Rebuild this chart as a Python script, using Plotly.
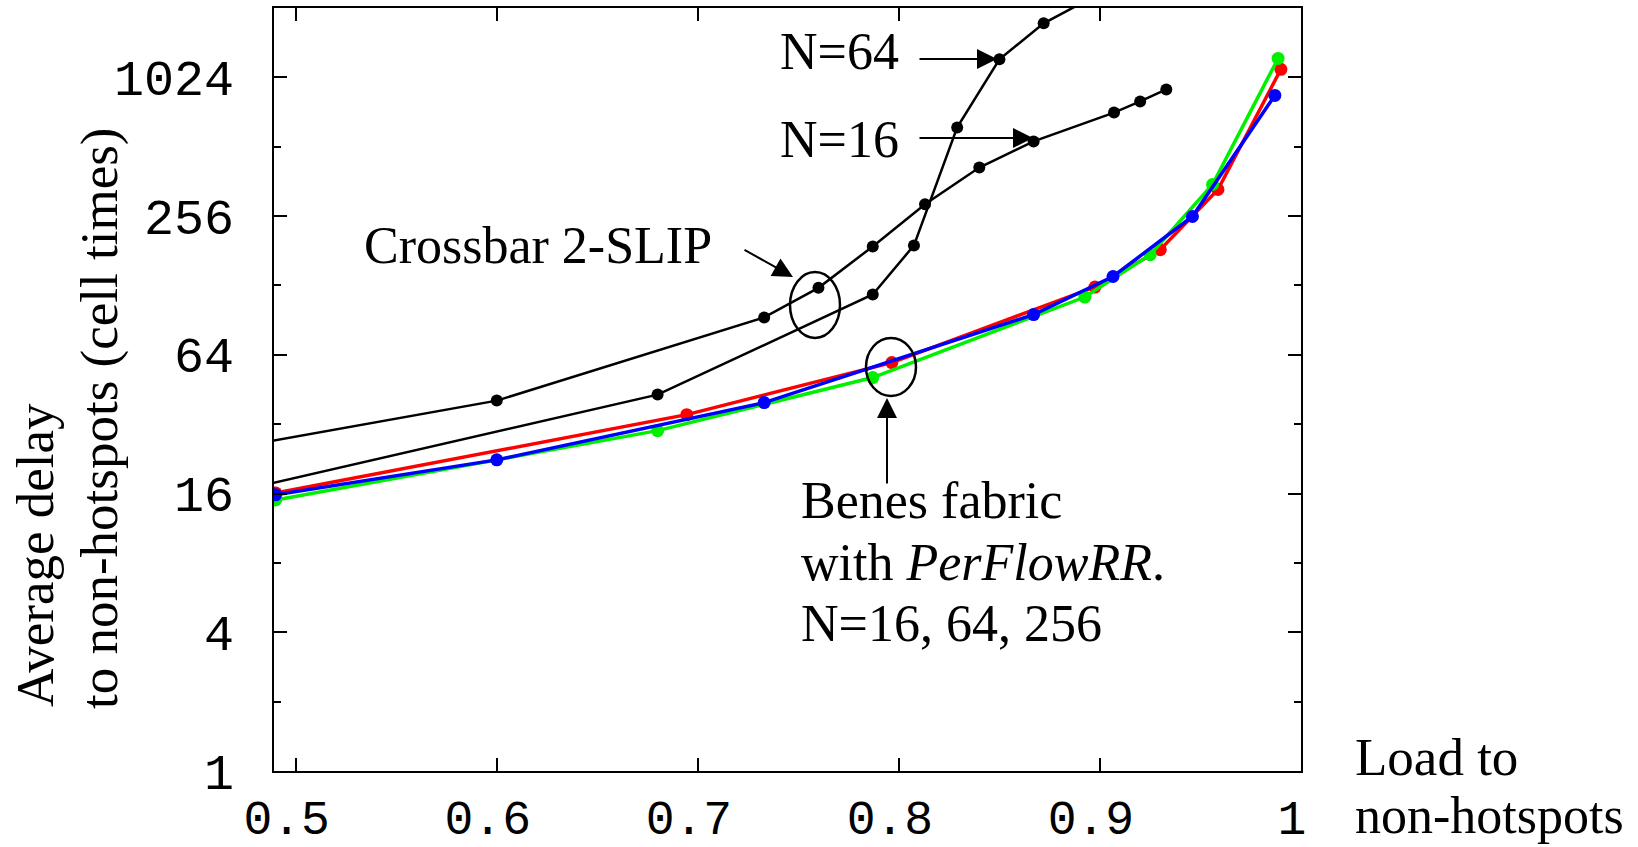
import plotly.graph_objects as go

# ---------------- data ----------------
xb16 = [0.4, 0.6, 0.733, 0.76, 0.787, 0.813, 0.84, 0.867, 0.907, 0.92, 0.933]
yb16 = [19.7, 40.5, 93, 125, 189, 288, 416, 540, 720, 805, 908]

xb64 = [0.4, 0.68, 0.787, 0.8075, 0.829, 0.85, 0.872, 0.893]
yb64 = [11.8, 43.0, 117, 191, 621, 1226, 1757, 2200]

x_red = [0.49, 0.6945, 0.7965, 0.8975, 0.930, 0.9587, 0.990]
y_red = [16.1, 35.2, 59.2, 126, 183, 334, 1110]

x_green = [0.49, 0.68, 0.787, 0.8925, 0.925, 0.956, 0.9886]
y_green = [15.0, 30.0, 51.0, 114, 174, 351, 1237]

x_blue = [0.49, 0.6, 0.733, 0.867, 0.9065, 0.946, 0.987]
y_blue = [15.8, 22.4, 39.7, 95.7, 140, 255, 855]

x_ticks = [0.5, 0.6, 0.7, 0.8, 0.9, 1.0]
x_ticklabels = ["0.5", "0.6", "0.7", "0.8", "0.9", "1"]
y_ticks = [1, 4, 16, 64, 256, 1024]
y_ticklabels = ["1", "4", "16", "64", "256", "1024"]
y_minor = [2, 8, 32, 128, 512]

# ---------------- layout geometry ----------------
W, H = 1638, 847
L, R, T, B = 274, 1301, 8, 771   # plot-area pixel box
PW, PH = R - L, B - T

def px(x):
    return (x - L) / PW

def py(y):
    return (B - y) / PH

SERIF = "Times New Roman, Liberation Serif, serif"
MONO = "Courier New, Liberation Mono, monospace"

fig = go.Figure()

def black(xs, ys):
    fig.add_trace(go.Scatter(x=xs, y=ys, mode="lines+markers",
                             line=dict(color="black", width=2.5),
                             marker=dict(color="black", size=12)))

black(xb16, yb16)
black(xb64, yb64)

for xs, ys, c in [(x_red, y_red, "#ff0000"), (x_green, y_green, "#00f000"),
                  (x_blue, y_blue, "#0000ff")]:
    fig.add_trace(go.Scatter(x=xs, y=ys, mode="lines+markers",
                             line=dict(color=c, width=3.5),
                             marker=dict(color=c, size=13)))

ann = []

def text(s, x, ybase, size=52, angle=0):
    ann.append(dict(text=s, xref="paper", yref="paper", x=px(x), y=py(ybase - 0.34 * size),
                    xanchor="left", yanchor="middle", showarrow=False,
                    font=dict(family=SERIF, size=size, color="black")))

def arrow(tail, tip):
    ann.append(dict(text="", xref="paper", yref="paper", x=px(tip[0]), y=py(tip[1]),
                    ax=tail[0] - tip[0], ay=tail[1] - tip[1], axref="pixel", ayref="pixel",
                    showarrow=True, arrowhead=2, arrowsize=2, arrowwidth=2,
                    arrowcolor="black", standoff=0, startstandoff=0))

text("N=64", 778, 69)
text("N=16", 778, 157)
text("Crossbar 2-SLIP", 362, 263)
text("Benes fabric", 799, 518)
text("with <i>PerFlowRR</i>.", 799, 580)
text("N=16, 64, 256", 799, 641)
text("Load to", 1353, 775, size=53)
text("non-hotspots", 1353, 833, size=52)

arrow((918, 59), (997, 59))
arrow((918, 138), (1033, 138))
arrow((743, 249), (793, 277))
arrow((887, 485), (887, 398))

# rotated y-axis title lines
for s, cx, cy in [("Average delay", 35, 555), ("to non-hotspots (cell times)", 99, 419)]:
    ann.append(dict(text=s, xref="paper", yref="paper", x=px(cx), y=py(cy),
                    xanchor="center", yanchor="middle", showarrow=False, textangle=-90,
                    font=dict(family=SERIF, size=53, color="black")))

shapes = []
for (x0, y0, x1, y1) in [(790, 272, 840, 338), (866, 338, 916, 396)]:
    shapes.append(dict(type="circle", xref="paper", yref="paper",
                       x0=px(x0), x1=px(x1), y0=py(y1), y1=py(y0),
                       line=dict(color="black", width=2.5)))

fig.update_layout(
    width=W, height=H,
    margin=dict(l=L, r=W - R, t=T, b=H - B, pad=0, autoexpand=False),
    paper_bgcolor="white", plot_bgcolor="white",
    showlegend=False,
    annotations=ann, shapes=shapes,
    xaxis=dict(range=[0.4892, 1.0], tickvals=x_ticks, ticktext=x_ticklabels,
               ticks="inside", ticklen=13, tickwidth=2, tickcolor="black",
               showline=True, linecolor="black", linewidth=2, mirror="ticks",
               showgrid=False, zeroline=False, ticklabelstandoff=3, ticklabelshift=-9,
               automargin=False,
               tickfont=dict(family=MONO, size=48, color="black")),
    yaxis=dict(type="log", range=[0, 3.31133], tickvals=y_ticks, ticktext=y_ticklabels,
               ticks="inside", ticklen=13, tickwidth=2, tickcolor="black",
               showline=True, linecolor="black", linewidth=2, mirror="ticks",
               showgrid=False, zeroline=False, ticklabelstandoff=28, automargin=False,
               minor=dict(tickvals=y_minor, ticks="inside", ticklen=7, tickwidth=2,
                          tickcolor="black", showgrid=False),
               tickfont=dict(family=MONO, size=50, color="black")),
)

fig.write_html("out.html")
